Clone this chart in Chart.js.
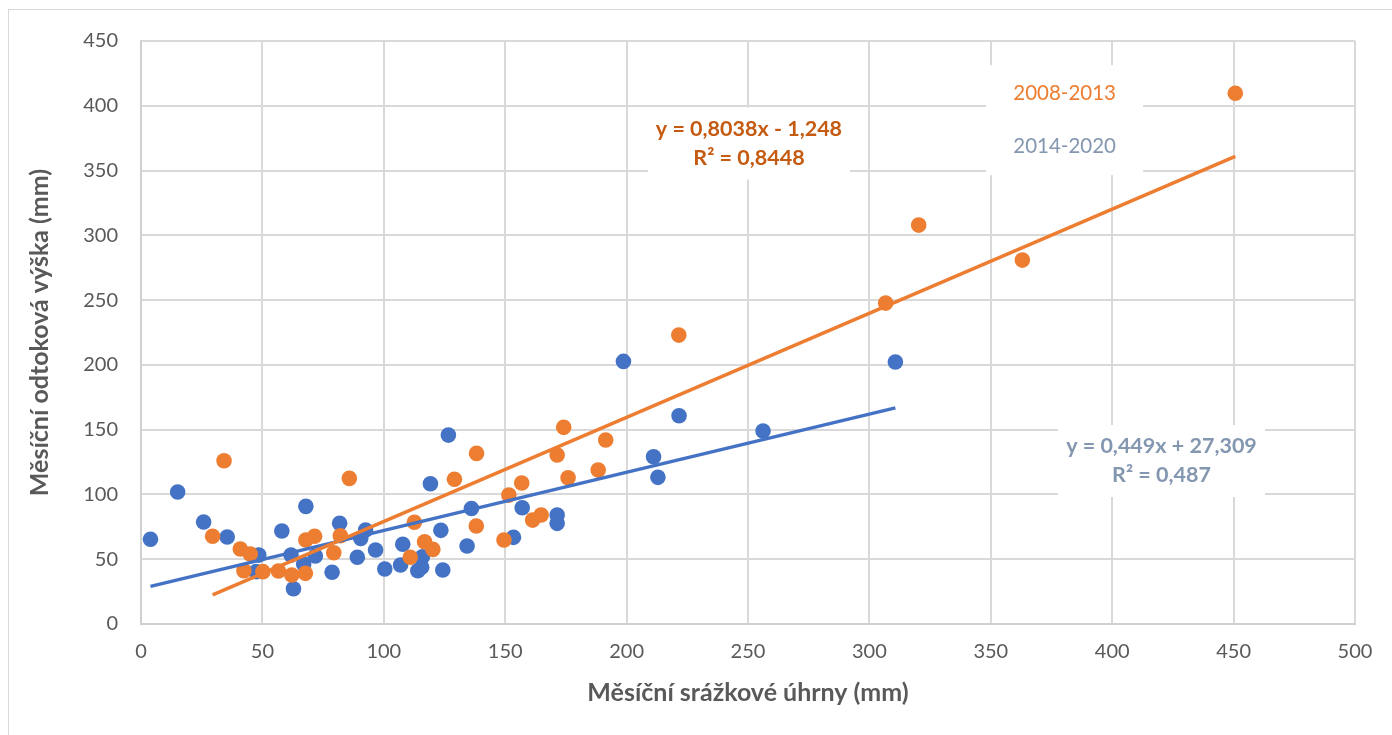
<!DOCTYPE html>
<html lang="cs">
<head>
<meta charset="utf-8">
<title>Měsíční srážkové úhrny a odtoková výška</title>
<script src="https://cdn.jsdelivr.net/npm/chart.js@4.4.1/dist/chart.umd.min.js"></script>
<style>
  html, body { margin: 0; padding: 0; background: #ffffff; }
  canvas { display: block; }
</style>
</head>
<body>
<canvas id="chart" width="1392" height="735"></canvas>
<script>
// Period names (legend entries)
const periods = ['2008-2013', '2014-2020'];

// 2008-2013: monthly precipitation (mm) and monthly runoff depth (mm)
const precip0813 = [29.5, 34.2, 40.9, 42.4, 45.0, 50.2, 56.6, 62.1, 67.7, 67.9, 71.5, 79.4, 82.1, 85.8,
  110.9, 112.6, 116.8, 120.2, 129.1, 138.2, 138.1, 149.5, 151.5, 156.8, 161.3, 164.8, 171.4, 174.1,
  175.9, 188.3, 191.4, 221.5, 306.7, 320.3, 363.0, 450.7];
const runoff0813 = [67.7, 126.0, 57.9, 41.1, 54.0, 40.4, 40.9, 37.8, 39.1, 64.8, 67.7, 55.0, 68.1, 112.4,
  51.5, 78.5, 63.5, 57.6, 111.7, 131.7, 75.6, 64.8, 99.5, 108.8, 80.2, 84.1, 130.4, 151.8,
  112.9, 118.8, 142.0, 223.0, 247.7, 307.9, 280.9, 409.7];

// 2014-2020: monthly precipitation (mm) and monthly runoff depth (mm)
const precip1420 = [3.9, 15.1, 25.8, 35.5, 48.5, 47.4, 58.0, 61.8, 62.8, 67.0, 67.9, 71.8, 78.7, 81.8,
  89.1, 90.5, 92.5, 96.6, 100.4, 106.9, 107.8, 114.0, 115.6, 115.9, 119.2, 123.5, 124.3, 126.6,
  134.3, 136.1, 153.4, 157.0, 171.4, 171.4, 198.7, 211.1, 212.9, 221.6, 256.2, 310.7];
const runoff1420 = [65.4, 101.9, 78.7, 67.1, 53.2, 40.4, 71.8, 53.2, 27.2, 46.3, 90.8, 52.5, 39.9, 77.7,
  51.5, 66.1, 72.5, 57.1, 42.4, 45.5, 61.5, 41.1, 43.8, 51.9, 108.3, 72.3, 41.7, 145.8,
  60.2, 89.1, 66.9, 89.7, 84.1, 77.7, 202.7, 129.1, 113.2, 160.7, 148.9, 202.2];

// Linear trend coefficients and coefficients of determination, per period
const slopes = [0.8038, 0.449];
const intercepts = [-1.248, 27.309];
const rSquared = [0.8448, 0.487];

// Axis tick values
const xTicks = [0, 50, 100, 150, 200, 250, 300, 350, 400, 450, 500];
const yTicks = [0, 50, 100, 150, 200, 250, 300, 350, 400, 450];

const colours = ['#ED7D31', '#4472C4'];
const legendColours = ['#ED7D31', '#8497B0'];
const equationColours = ['#C55A11', '#8497B0'];
const FONT = 'Lato, "Open Sans", "DejaVu Sans", sans-serif';

const toPoints = (xs, ys) => xs.map((x, i) => ({ x: x, y: ys[i] }));
const trendPoints = (xs, k) => {
  const lo = Math.min(...xs), hi = Math.max(...xs);
  return [lo, hi].map(x => ({ x: x, y: slopes[k] * x + intercepts[k] }));
};
const czech = n => String(n).replace('.', ',');
const equationText = k =>
  'y = ' + czech(slopes[k]) + 'x ' + (intercepts[k] < 0 ? '- ' : '+ ') + czech(Math.abs(intercepts[k]));
const r2Text = k => 'R\u00B2 = ' + czech(rSquared[k]);

const seriesX = [precip0813, precip1420];
const seriesY = [runoff0813, runoff1420];

// Text boxes placed on the plot (centre in data units, size in px)
const boxes = [
  { cx: 250.4, cy: 370.8, w: 202, h: 72, lines: [equationText(0), r2Text(0)],
    colours: [equationColours[0], equationColours[0]], bold: true, size: 21.5, gap: 29 },
  { cx: 380.4, cy: 388.9, w: 157, h: 110, lines: periods,
    colours: legendColours, bold: false, size: 20.5, gap: 53 },
  { cx: 420.3, cy: 125.8, w: 207, h: 72, lines: [equationText(1), r2Text(1)],
    colours: [equationColours[1], equationColours[1]], bold: true, size: 21.5, gap: 29 }
];

const labelBoxes = {
  id: 'labelBoxes',
  afterDatasetsDraw(chart) {
    const { ctx, scales: { x, y } } = chart;
    ctx.save();
    boxes.forEach(b => {
      const px = x.getPixelForValue(b.cx);
      const py = y.getPixelForValue(b.cy);
      ctx.fillStyle = '#ffffff';
      ctx.fillRect(px - b.w / 2, py - b.h / 2, b.w, b.h);
      ctx.font = (b.bold ? 'bold ' : '') + b.size + 'px ' + FONT;
      ctx.textAlign = 'center';
      ctx.textBaseline = 'middle';
      b.lines.forEach((t, i) => {
        ctx.fillStyle = b.colours[i];
        ctx.fillText(t, px, py + (i - (b.lines.length - 1) / 2) * b.gap);
      });
    });
    ctx.restore();
  }
};

const frame = {
  id: 'frame',
  beforeDraw(chart) {
    const { ctx } = chart;
    ctx.save();
    ctx.fillStyle = '#ffffff';
    ctx.fillRect(0, 0, chart.width, chart.height);
    ctx.strokeStyle = '#D9D9D9';
    ctx.lineWidth = 1;
    ctx.strokeRect(8.5, 9.5, chart.width + 20, chart.height + 20);
    ctx.restore();
  }
};

new Chart(document.getElementById('chart'), {
  type: 'scatter',
  data: {
    datasets: [
      { label: periods[0] + ' trend', type: 'line', data: trendPoints(precip0813, 0),
        borderColor: colours[0], borderWidth: 3.5, pointRadius: 0, fill: false, order: 0 },
      { label: periods[1] + ' trend', type: 'line', data: trendPoints(precip1420, 1),
        borderColor: colours[1], borderWidth: 3.5, pointRadius: 0, fill: false, order: 1 },
      { label: periods[0], data: toPoints(seriesX[0], seriesY[0]),
        backgroundColor: colours[0], borderWidth: 0, pointRadius: 7.8, order: 2 },
      { label: periods[1], data: toPoints(seriesX[1], seriesY[1]),
        backgroundColor: colours[1], borderWidth: 0, pointRadius: 7.8, order: 3 }
    ]
  },
  options: {
    responsive: false,
    animation: false,
    devicePixelRatio: 1,
    layout: { padding: { top: 41, right: 37, bottom: 0, left: 0 } },
    plugins: { legend: { display: false }, tooltip: { enabled: false } },
    scales: {
      x: {
        type: 'linear',
        min: xTicks[0], max: xTicks[xTicks.length - 1],
        afterBuildTicks: s => { s.ticks = xTicks.map(v => ({ value: v })); },
        afterFit: s => { s.height = 111; },
        grid: { color: '#D9D9D9', lineWidth: 2, drawTicks: false },
        border: { color: '#D0D0D0', width: 2 },
        ticks: { color: '#595959', padding: 16, font: { family: FONT, size: 20 } },
        title: { display: true, text: 'Měsíční srážkové úhrny (mm)', color: '#595959',
          padding: { top: 0, bottom: 27 }, font: { family: FONT, size: 25, weight: 'bold' } }
      },
      y: {
        type: 'linear',
        min: yTicks[0], max: yTicks[yTicks.length - 1],
        afterBuildTicks: s => { s.ticks = yTicks.map(v => ({ value: v })); },
        afterFit: s => { s.width = 141; },
        grid: { color: '#D9D9D9', lineWidth: 2, drawTicks: false },
        border: { color: '#D0D0D0', width: 2 },
        ticks: { color: '#595959', padding: 23, font: { family: FONT, size: 20 } },
        title: { display: true, text: 'Měsíční odtoková výška (mm)', color: '#595959',
          padding: { top: 25, bottom: 0 }, font: { family: FONT, size: 25, weight: 'bold' } }
      }
    }
  },
  plugins: [frame, labelBoxes]
});
</script>
</body>
</html>
